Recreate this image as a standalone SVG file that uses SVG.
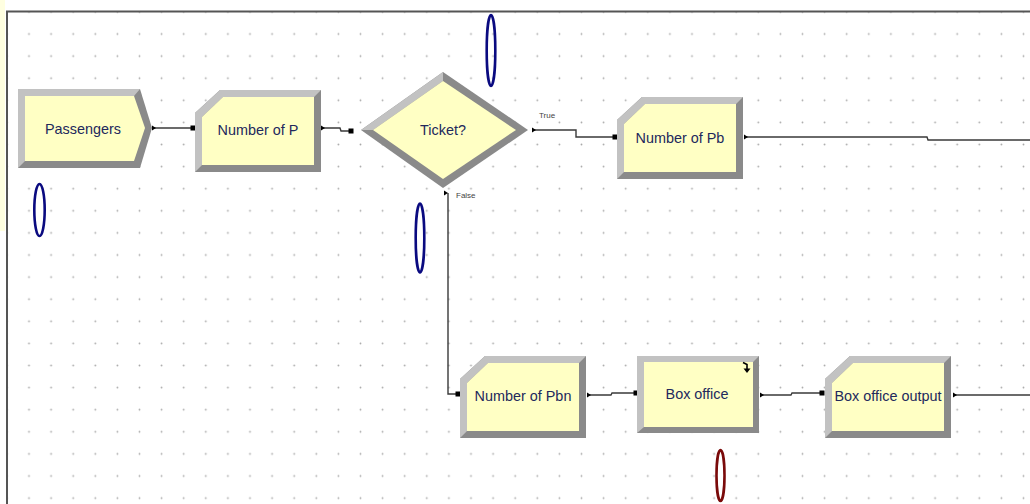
<svg xmlns="http://www.w3.org/2000/svg" xmlns:xlink="http://www.w3.org/1999/xlink" width="1030" height="504" viewBox="0 0 1030 504">
<style>
.lt{fill:#c2c2c2}
.dk{fill:#8a8a8a}
.yl{fill:#ffffc4}
.lbl{font-family:"Liberation Sans",Arial,sans-serif;font-size:14.4px;fill:#22285c;text-anchor:middle;dominant-baseline:central}
.sm{font-family:"Liberation Sans",Arial,sans-serif;font-size:8px;fill:#444}
.cn{fill:none;stroke:#3a3a3a;stroke-width:1.4}
.pt{fill:#000}
.ov{fill:none;stroke:#0a0a80;stroke-width:2.6}
</style>
<defs>
<pattern id="grid" patternUnits="userSpaceOnUse" x="17.95" y="0.85" width="22.1" height="22.1">
<circle cx="11.05" cy="11.05" r="0.9" fill="#a8a8a8"/>
</pattern>
<g id="cutbox">
<polygon class="dk" points="0,23 25,0 126,0 126,82 0,82"/>
<polygon class="lt" points="0,82 0,23 25,0 126,0 119,7 28,7 7,27 7,75"/>
<polygon class="yl" points="7,27 28,7 119,7 119,75 7,75"/>
</g>
<polygon id="tri" class="pt" points="0,-2.5 4,0 0,2.5"/>
<rect id="sq" class="pt" x="-2.5" y="-2.5" width="5" height="5"/>
</defs>
<rect x="0" y="0" width="1030" height="504" fill="#fff"/>
<rect x="0" y="0" width="5" height="231" fill="#ffffe0"/>
<rect x="8" y="12" width="1022" height="492" fill="url(#grid)"/>
<line x1="6" y1="11.5" x2="1030" y2="11.5" stroke="#555" stroke-width="2"/>
<line x1="7" y1="11" x2="7" y2="504" stroke="#555" stroke-width="2"/>

<g id="connectors">
<polyline class="cn" points="153,128 193,128"/>
<polyline class="cn" points="322,128 340,128 341,131 351,131"/>
<polyline class="cn" points="534,130 576,130 576,137 615,137"/>
<polyline class="cn" points="745,137 927,137 928,140 1030,140"/>
<polyline class="cn" points="448,193 448,394 458,394"/>
<polyline class="cn" points="588,395 611,395 612,393 636,393"/>
<polyline class="cn" points="761,395 791,395 792,393 822,393"/>
<polyline class="cn" points="954,395 1030,395"/>
<use xlink:href="#tri" x="152" y="128"/>
<use xlink:href="#sq" x="193" y="128"/>
<use xlink:href="#tri" x="321" y="128"/>
<use xlink:href="#sq" x="351" y="131"/>
<use xlink:href="#tri" x="532" y="130"/>
<use xlink:href="#sq" x="615" y="137"/>
<use xlink:href="#tri" x="744" y="137"/>
<use xlink:href="#tri" x="444" y="193"/>
<use xlink:href="#sq" x="458" y="394"/>
<use xlink:href="#tri" x="587" y="395"/>
<use xlink:href="#sq" x="636" y="393"/>
<use xlink:href="#tri" x="760" y="395"/>
<use xlink:href="#sq" x="822" y="393"/>
<use xlink:href="#tri" x="953" y="395"/>
<text class="sm" x="539" y="118">True</text>
<text class="sm" x="456" y="198">False</text>
</g>

<g id="passengers" transform="translate(18,89)">
<polygon class="dk" points="0,0 122,0 134,39 122,79 0,79"/>
<polygon class="lt" points="0,79 0,0 122,0 116,7 7,7 7,72"/>
<polygon class="yl" points="7,7 116,7 127,39 116,72 7,72"/>
<text class="lbl" x="65" y="39.5">Passengers</text>
</g>

<g id="number-of-p" transform="translate(195,90)">
<use xlink:href="#cutbox"/>
<text class="lbl" x="63" y="40">Number of P</text>
</g>

<g id="ticket">
<polygon class="dk" points="361,130 443,72 528,130 443,188"/>
<polygon class="lt" points="361,130 443,72 443,81 373,130"/>
<polygon class="yl" points="373,130 443,81 516,130 443,179"/>
<text class="lbl" x="443" y="130">Ticket?</text>
</g>

<g id="number-of-pb" transform="translate(617,97)">
<use xlink:href="#cutbox"/>
<text class="lbl" x="63" y="41">Number of Pb</text>
</g>

<g id="number-of-pbn" transform="translate(460,356)">
<use xlink:href="#cutbox"/>
<text class="lbl" x="63" y="40">Number of Pbn</text>
</g>

<g id="box-office" transform="translate(637,356)">
<rect class="dk" x="0" y="0" width="122" height="77"/>
<polygon class="lt" points="0,77 0,0 122,0 116,6 7,6 7,71"/>
<rect class="yl" x="7" y="6" width="109" height="65"/>
<path d="M106,6.5 L110,8.5 L110,13" fill="none" stroke="#000" stroke-width="1.6"/>
<polygon class="pt" points="106.5,12.5 113.5,12.5 110,17"/>
<text class="lbl" x="60" y="37.5">Box office</text>
</g>

<g id="box-office-output" transform="translate(825,356)">
<use xlink:href="#cutbox"/>
<text class="lbl" x="63" y="40">Box office output</text>
</g>

<g id="variables">
<ellipse class="ov" cx="39.5" cy="210" rx="5.2" ry="26"/>
<ellipse class="ov" cx="491" cy="50.5" rx="4.3" ry="35.5"/>
<ellipse class="ov" cx="420" cy="238" rx="4.3" ry="34.5"/>
<ellipse class="ov" cx="720.5" cy="475.5" rx="4" ry="25.5" style="stroke:#7a0a0a"/>
</g>
</svg>
